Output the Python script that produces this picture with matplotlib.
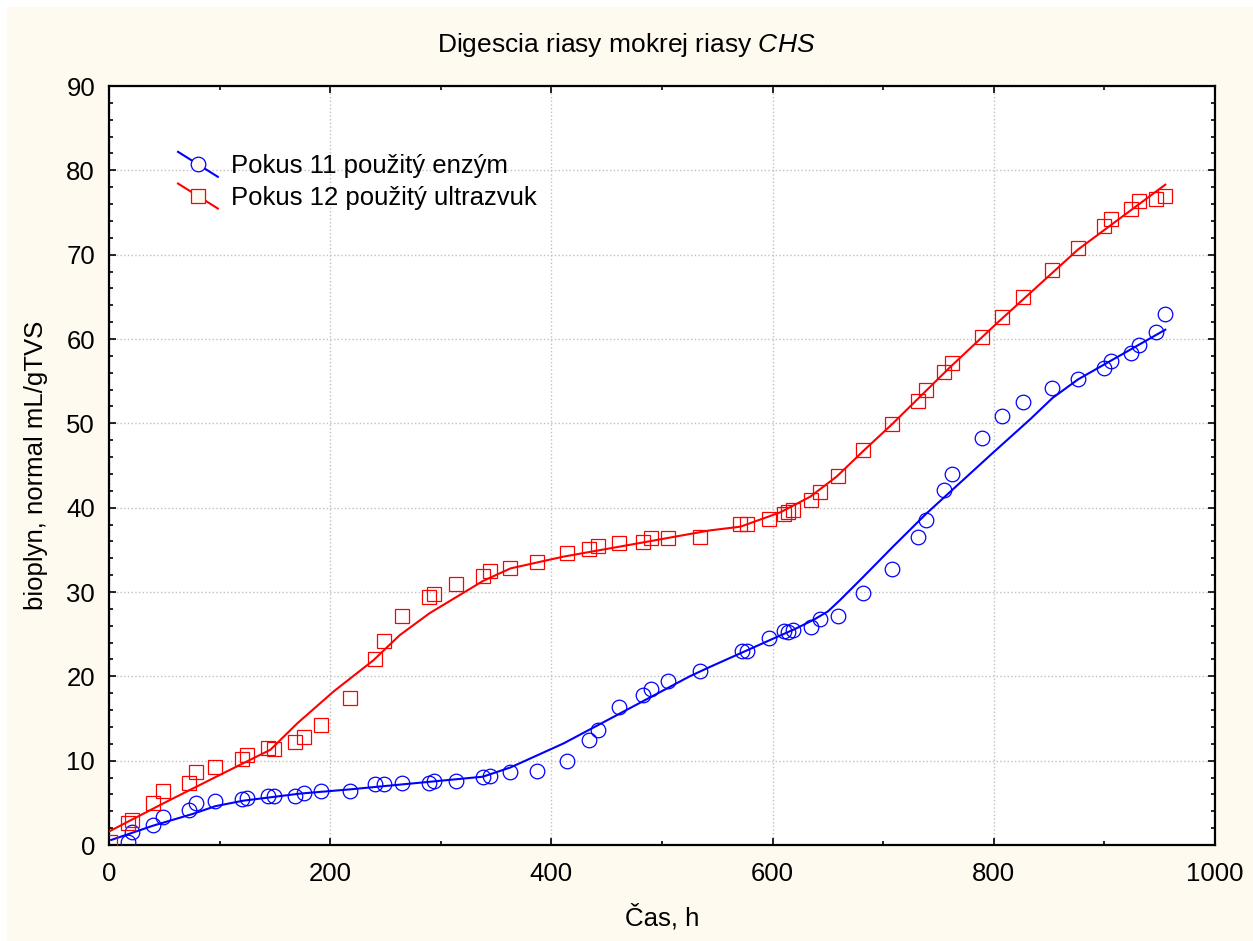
import matplotlib
matplotlib.use('Agg')
import matplotlib.pyplot as plt
from matplotlib.lines import Line2D
from matplotlib.patches import Rectangle
from matplotlib.legend_handler import HandlerBase
from matplotlib.ticker import MultipleLocator

plt.rcParams['font.family'] = ['Liberation Sans', 'DejaVu Sans']
plt.rcParams['mathtext.fontset'] = 'custom'
plt.rcParams['mathtext.rm'] = 'Liberation Sans'
plt.rcParams['mathtext.it'] = 'Liberation Sans:italic'

# measured points - Pokus 11 (enzym)
time_enzym = [17.5, 20.5, 40, 49, 72, 79, 96, 120.5, 125, 143.5, 149, 168, 176, 192,
              218, 240.5, 248.6, 265, 289, 294, 314, 338, 344.5, 362.6, 386.7, 414,
              434, 442, 461, 482.5, 490, 505.7, 534, 572.6, 577, 597, 610, 614, 618,
              635, 643, 659.5, 682, 708, 731, 738.5, 755, 762.5, 789, 807, 826.7,
              852.3, 876.4, 900, 905.6, 924, 931.6, 946.7, 954.8]
bioplyn_enzym = [0.4, 1.6, 2.4, 3.3, 4.1, 5.0, 5.2, 5.45, 5.6, 5.8, 5.8, 5.8, 6.2, 6.4,
                 6.4, 7.2, 7.2, 7.4, 7.4, 7.6, 7.6, 8.1, 8.2, 8.6, 8.8, 10.0,
                 12.45, 13.6, 16.4, 17.8, 18.5, 19.45, 20.6, 23.0, 23.0, 24.6, 25.4, 25.3, 25.55,
                 25.8, 26.8, 27.15, 29.9, 32.7, 36.5, 38.5, 42.1, 43.95, 48.3, 50.9, 52.5,
                 54.25, 55.25, 56.6, 57.4, 58.4, 59.3, 60.85, 63.0]

# measured points - Pokus 12 (ultrazvuk)
time_ultrazvuk = [1, 17.5, 20.5, 40, 49, 72, 79, 96, 120.5, 125, 143.5, 149, 168, 176, 192,
                  218, 240.5, 248.6, 265, 289, 294, 314, 338, 344.5, 362.6, 386.7, 414,
                  434, 442, 461, 482.5, 490, 505.7, 534, 570.5, 577, 597, 610, 614, 618,
                  635, 643, 659.5, 682, 708, 731, 738.5, 755, 762.5, 789, 807, 826.7,
                  852.3, 876.4, 900, 905.6, 924, 931.6, 946.7, 954.8]
bioplyn_ultrazvuk = [0.3, 2.65, 3.0, 5.0, 6.4, 7.4, 8.6, 9.2, 10.25, 10.65, 11.45, 11.4, 12.25, 12.85, 14.2,
                     17.4, 22.1, 24.2, 27.2, 29.4, 29.8, 30.95, 31.9, 32.5, 32.9, 33.6, 34.6,
                     35.1, 35.5, 35.8, 35.95, 36.35, 36.35, 36.5, 38.1, 38.1, 38.7, 39.3, 39.5, 39.7,
                     40.9, 41.85, 43.7, 46.85, 49.9, 52.7, 53.9, 56.05, 57.2, 60.2, 62.65, 65.0,
                     68.2, 70.8, 73.4, 74.2, 75.4, 76.4, 76.55, 76.95]

# smoothed fit curves
fit_time_enzym = [2, 40, 76, 96, 121, 173, 218, 290, 338, 363, 411, 462, 525, 543,
                  601, 620, 637, 650, 661, 682, 709, 739, 797, 833, 853, 876, 955]
fit_enzym = [0.6, 2.3, 3.7, 4.6, 5.25, 6.1, 6.6, 7.5, 8.1, 9.2, 12.05, 15.6, 20.0, 21.1,
             24.5, 25.6, 26.7, 27.7, 29.05, 31.8, 35.4, 39.3, 46.25, 50.5, 53.0, 55.2, 61.1]
fit_time_ultrazvuk = [0, 50, 100, 146, 170, 203, 239, 263, 290, 314, 338, 363, 411, 471,
                      543, 571, 607, 634, 658, 683, 708, 760, 803, 876, 955]
fit_ultrazvuk = [1.6, 5.0, 8.3, 11.3, 14.4, 18.2, 21.9, 24.9, 27.5, 29.4, 31.3, 32.8, 34.2, 35.6,
                 37.3, 37.75, 39.45, 41.3, 43.7, 46.85, 49.9, 56.6, 61.9, 70.6, 78.3]

labels = ['Pokus 11 použitý enzým', 'Pokus 12 použitý ultrazvuk']
cream = '#fefaf0'


class DiagonalHandler(HandlerBase):
    # legend entry: slanted line with the marker in the middle
    def create_artists(self, legend, orig_handle, xdescent, ydescent, width, height, fontsize, trans):
        cx = -xdescent + width / 2
        cy = -ydescent + height / 2
        dy = 9
        line = Line2D([-xdescent, -xdescent + width], [cy + dy, cy - dy],
                      color=orig_handle.get_color(), lw=1.5)
        mk = Line2D([cx], [cy], marker=orig_handle.get_marker(), markersize=10.5,
                    markerfacecolor=cream, markeredgecolor=orig_handle.get_color(),
                    markeredgewidth=0.9, linestyle='none')
        line.set_transform(trans)
        mk.set_transform(trans)
        return [line, mk]


fig = plt.figure(figsize=(12.53, 9.41), dpi=100)
fig.patch.set_facecolor('white')
fig.patches.append(Rectangle((7 / 1253, 0), 1, 1 - 7 / 941, transform=fig.transFigure,
                             facecolor=cream, edgecolor='none', zorder=-10))

ax = fig.add_axes([0.087, 0.102, 0.8827, 0.8066])
ax.set_facecolor('white')

ax.plot(fit_time_enzym, fit_enzym, color='#0000ff', lw=1.5, zorder=3)
ax.plot(fit_time_ultrazvuk, fit_ultrazvuk, color='#ff0000', lw=1.5, zorder=3)
ax.plot(time_enzym, bioplyn_enzym, linestyle='none', marker='o', markersize=10.5,
        markerfacecolor='none', markeredgecolor='#0000ff', markeredgewidth=0.9, zorder=4)
ax.plot(time_ultrazvuk, bioplyn_ultrazvuk, linestyle='none', marker='s', markersize=10.5,
        markerfacecolor='none', markeredgecolor='#ff0000', markeredgewidth=0.9, zorder=4)

ax.set_xlim(0, 1000)
ax.set_ylim(0, 90)
ax.xaxis.set_major_locator(MultipleLocator(200))
ax.xaxis.set_minor_locator(MultipleLocator(100))
ax.yaxis.set_major_locator(MultipleLocator(10))
ax.yaxis.set_minor_locator(MultipleLocator(2))
ax.tick_params(which='both', direction='in', top=True, right=True, width=1.2, labelsize=18.5)
ax.tick_params(which='major', length=5)
ax.tick_params(which='minor', length=3)
ax.tick_params(axis='x', pad=12)
ax.tick_params(axis='y', pad=10)
for s in ax.spines.values():
    s.set_linewidth(1.6)
ax.grid(True, which='major', color='#c0c0c0', linestyle=':', linewidth=1)
ax.set_axisbelow(True)

ax.set_xlabel('Čas, h', fontsize=18.5, labelpad=13)
ax.set_ylabel('bioplyn, normal mL/gTVS', fontsize=18.5, labelpad=13)
fig.text(0.5, 1 - 45 / 941, r'Digescia riasy mokrej riasy $\mathit{CHS}$',
         ha='center', va='center', fontsize=19)

proxies = [Line2D([], [], color='#0000ff', marker='o'),
           Line2D([], [], color='#ff0000', marker='s')]
ax.legend(proxies, labels, handler_map={Line2D: DiagonalHandler()},
          loc='upper left', bbox_to_anchor=(0.0624, 0.91), frameon=False,
          fontsize=18.5, borderpad=0, handlelength=1.55, handletextpad=0.5,
          labelspacing=0.3, borderaxespad=0)

fig.savefig('out.png', dpi=100, facecolor=fig.get_facecolor())
